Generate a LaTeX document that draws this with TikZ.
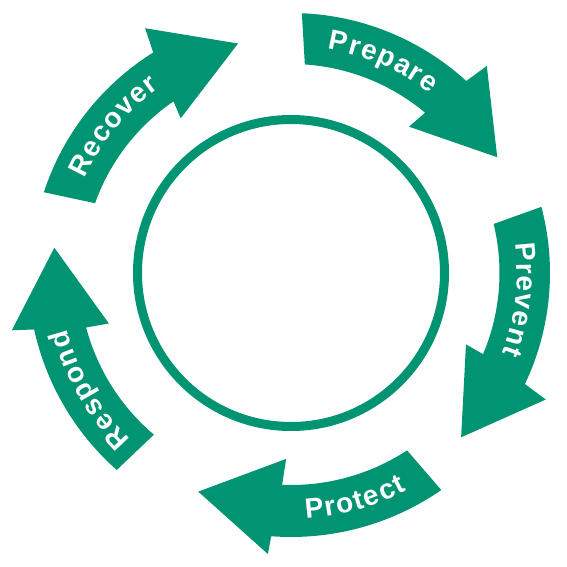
\documentclass[tikz,border=0pt]{standalone}
\usepackage{fontspec}
\setmainfont{Liberation Sans}
\definecolor{grn}{RGB}{0,148,114}
\newcommand\arrfont{\fontsize{28}{30}\selectfont\bfseries}
\newcommand\awSize{28}
% #1 name, #2 baseline radius, #3 centre angle, #4 direction (-1 cw, +1 ccw), #5 letter spacing, #6 letter/width(1/1000 em) list
\newcommand\arcword[6]{%
  \xdef\awTot{0}%
  \foreach \awC/\awK in {#6}{%
    \pgfmathsetmacro\awT{\awTot+\awK/1000*\awSize+#5}%
    \xdef\awTot{\awT}%
  }%
  \pgfmathsetmacro\awT{\awTot-#5}\xdef\awTot{\awT}%
  \xdef\awCum{0}%
  \foreach \awC/\awK [count=\i] in {#6}{%
    \pgfmathsetmacro\awA{#3+(#4)*((\awCum+0.5*\awK/1000*\awSize)-0.5*\awTot)/#2*180/pi}%
    \node[letter, rotate={\awA+(#4)*90}] (#1\i) at (\awA:#2pt) {\awC};
    \pgfmathsetmacro\awT{\awCum+\awK/1000*\awSize+#5}%
    \xdef\awCum{\awT}%
  }%
}
\begin{document}
\begin{tikzpicture}[
  arrowfill/.style={fill=grn},
  letter/.style={text=white, font=\arrfont, inner sep=0pt, anchor=base},
  hubring/.style={circle, draw=grn, line width=9pt, minimum size=307pt, inner sep=0pt}
]
\useasboundingbox (-291pt,-294pt) rectangle (276pt,273pt);

\node[hubring] (hub) at (0,0) {};

% Prepare
\fill[arrowfill] (87.6:260pt) arc[start angle=87.6, end angle=47.6, radius=260pt]
  -- (46.6:285pt) -- (29.3:236.5pt) -- (51.1:188pt) -- (50.1:209pt)
  arc[start angle=50.1, end angle=86.2, radius=209pt] -- cycle;
% Prevent
\fill[arrowfill] (14.8:259pt) arc[start angle=14.8, end angle=-25.4, radius=259pt]
  -- (-26.4:284.5pt) -- (-44:236.5pt) -- (-22.2:189pt) -- (-22.9:208.5pt)
  arc[start angle=-22.9, end angle=13.6, radius=208.5pt] -- cycle;
% Protect
\fill[arrowfill] (-55.3:264pt) arc[start angle=-55.3, end angle=-94.3, radius=264pt]
  -- (-94.7:282pt) -- (-113:237.5pt) -- (-91.5:186pt) -- (-92.4:212pt)
  arc[start angle=-92.4, end angle=-56.8, radius=212pt] -- cycle;
% Respond
\fill[arrowfill] (-131.5:263pt) arc[start angle=-131.5, end angle=-167.6, radius=263pt]
  -- (-168.4:285pt) -- (-186.1:238pt) -- (-164.5:189pt) -- (-165.1:212pt)
  arc[start angle=-165.1, end angle=-130.3, radius=212pt] -- cycle;
% Recover
\fill[arrowfill] (161.9:260pt) arc[start angle=161.9, end angle=122.0, radius=260pt]
  -- (120.8:285pt) -- (103:235.5pt) -- (125.5:190pt) -- (124.4:208pt)
  arc[start angle=124.4, end angle=160.4, radius=208pt] -- cycle;

\arcword{prep}{227}{66.5}{-1}{1.4}{P/667,r/389,e/556,p/611,a/556,r/389,e/556}
\arcword{prev}{226}{-6.6}{-1}{1.4}{P/667,r/389,e/556,v/556,e/556,n/611,t/333}
\arcword{prot}{246}{-74.2}{1}{1.6}{P/667,r/389,o/611,t/333,e/556,c/556,t/333}
\arcword{resp}{231}{210}{-1}{1.4}{R/722,e/556,s/556,p/611,o/611,n/611,d/611}
\arcword{reco}{227}{140.4}{-1}{1.4}{R/722,e/556,c/556,o/611,v/556,e/556,r/389}
\end{tikzpicture}
\end{document}
